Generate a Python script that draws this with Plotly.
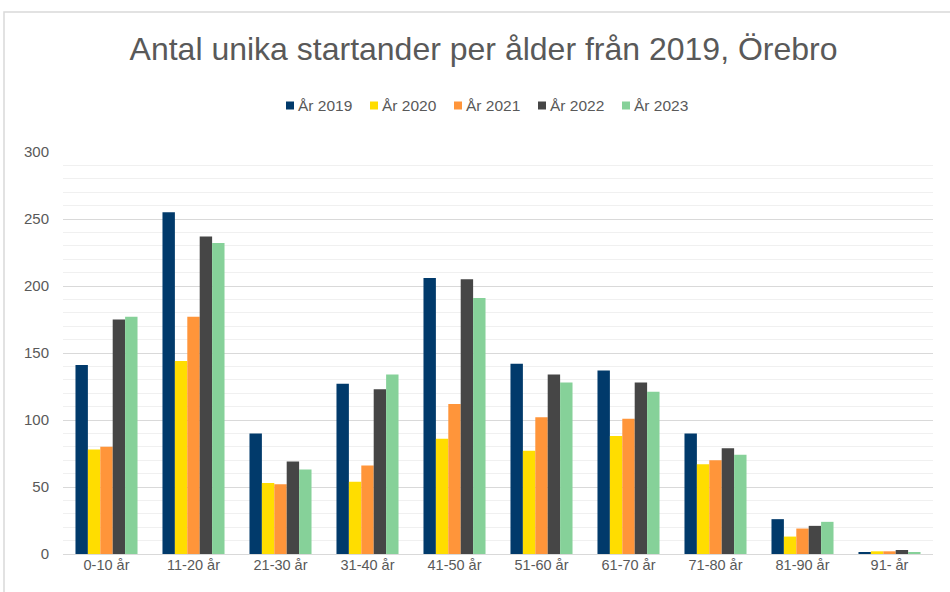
import plotly.graph_objects as go

categories = ["0-10 år", "11-20 år", "21-30 år", "31-40 år", "41-50 år",
              "51-60 år", "61-70 år", "71-80 år", "81-90 år", "91- år"]
series_names = ["År 2019", "År 2020", "År 2021", "År 2022", "År 2023"]
v2019 = [141, 255, 90, 127, 206, 142, 137, 90, 26, 1]
v2020 = [78, 144, 53, 54, 86, 77, 88, 67, 13, 2]
v2021 = [80, 177, 52, 66, 112, 102, 101, 70, 19, 2]
v2022 = [175, 237, 69, 123, 205, 134, 128, 79, 21, 3]
v2023 = [177, 232, 63, 134, 191, 128, 121, 74, 24, 1]
colors = ["#013A6B", "#FFDD00", "#FF953A", "#464646", "#86D199"]

W, H = 950, 592
L, R, T, B = 63, 17, 152, 38
PW, PH = W - L - R, H - T - B

def px_x(p):
    return (p - L) / PW

def px_y(p):
    return (H - B - p) / PH

fig = go.Figure()
for name, vals, c in zip(series_names, [v2019, v2020, v2021, v2022, v2023], colors):
    fig.add_trace(go.Bar(x=categories, y=vals, name=name, marker_color=c,
                         marker_line_width=0, showlegend=False))

font = "Liberation Sans, Arial, sans-serif"
grey = "#595959"

# Custom legend (compact, Excel-like): squares + labels
shapes = [dict(type="rect", xref="paper", yref="paper",
               x0=px_x(4), x1=px_x(975), y0=px_y(610), y1=px_y(12),
               line=dict(color="#d9d9d9", width=1.5), layer="below")]
annotations = []
leg_x0, leg_step, leg_y = 286, 84, 105.5
for i, (name, c) in enumerate(zip(series_names, colors)):
    sx = leg_x0 + i * leg_step
    shapes.append(dict(type="rect", xref="paper", yref="paper",
                       x0=px_x(sx), x1=px_x(sx + 8), y0=px_y(leg_y + 4), y1=px_y(leg_y - 4),
                       fillcolor=c, line=dict(width=0)))
    annotations.append(dict(text=name, xref="paper", yref="paper",
                            x=px_x(sx + 10), y=px_y(leg_y), xanchor="left", yanchor="middle",
                            showarrow=False, font=dict(family=font, size=15.5, color=grey)))

fig.update_layout(
    width=W, height=H,
    margin=dict(l=L, r=R, t=T, b=B),
    paper_bgcolor="white", plot_bgcolor="white",
    barmode="group", bargap=0.287, bargroupgap=0,
    title=dict(text="Antal unika startander per ålder från 2019, Örebro",
               x=0.509, xanchor="center", y=0.917, yanchor="middle",
               font=dict(family=font, size=32, color=grey)),
    showlegend=False,
    xaxis=dict(tickfont=dict(family=font, size=14.5, color=grey),
               showgrid=False, zeroline=False, ticks="", showline=False),
    yaxis=dict(range=[0, 300], dtick=50, tickfont=dict(family=font, size=15, color=grey),
               showgrid=True, gridcolor="#d9d9d9", gridwidth=1, zeroline=True,
               zerolinecolor="#d9d9d9", zerolinewidth=1, ticks="", ticklabelstandoff=13,
               minor=dict(dtick=10, showgrid=True, gridcolor="#f0f0f0", gridwidth=1)),
    shapes=shapes,
    annotations=annotations,
)
fig.write_html("out.html", config={"displayModeBar": False},
               post_script="document.body.style.margin='0';")
